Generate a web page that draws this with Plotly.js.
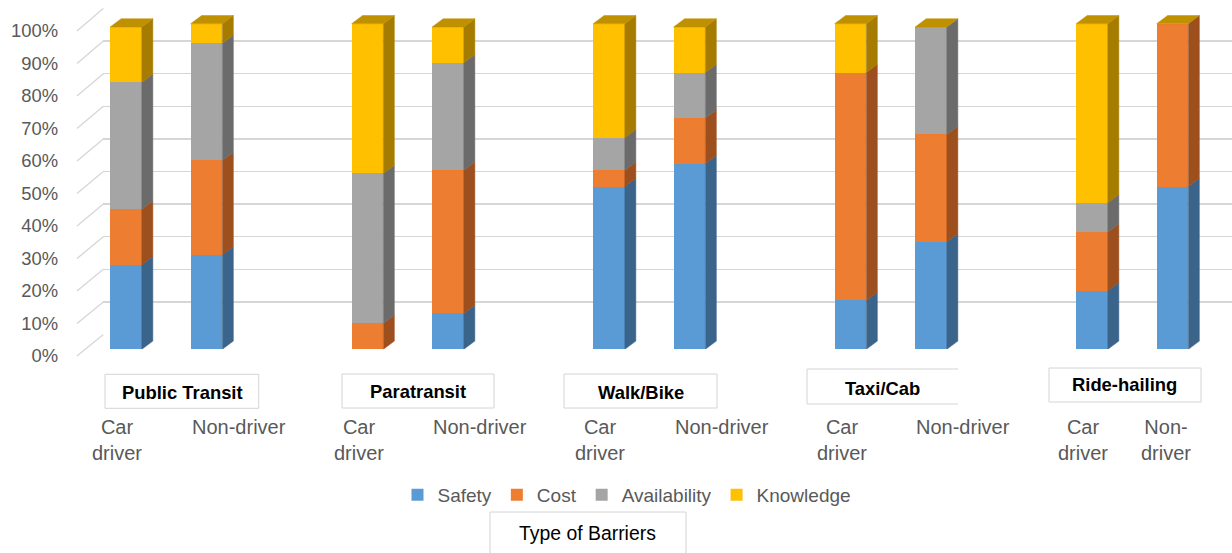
<!DOCTYPE html>
<html>
<head>
<meta charset="utf-8">
<script src="https://cdn.plot.ly/plotly-3.0.1.min.js"></script>
<style>html,body{margin:0;padding:0;background:#fff;}#chart{width:1232px;height:553px;}</style>
</head>
<body>
<div id="chart"></div>
<script>
// ---------- data ----------
const modes = ['Public Transit', 'Paratransit', 'Walk/Bike', 'Taxi/Cab', 'Ride-hailing'];
const groups = ['Car driver', 'Non-driver'];
const seriesNames = ['Safety', 'Cost', 'Availability', 'Knowledge'];
// order: PT car, PT non, Para car, Para non, WB car, WB non, Taxi car, Taxi non, RH car, RH non
const safety       = [26, 29,  0, 11, 50, 57, 15, 33, 18, 50];
const cost         = [17, 29,  8, 44,  5, 14, 70, 33, 18, 50];
const availability = [39, 36, 46, 33, 10, 14,  0, 33,  9,  0];
const knowledge    = [17,  6, 46, 11, 35, 14, 15,  0, 55,  0];
const yTicks = [0, 10, 20, 30, 40, 50, 60, 70, 80, 90, 100];
const yTickText = ['0%', '10%', '20%', '30%', '40%', '50%', '60%', '70%', '80%', '90%', '100%'];
const axisTitle = 'Type of Barriers';

// ---------- styling / geometry ----------
const W = 1232, H = 553;
const FONT = 'Liberation Sans, Arial, sans-serif';
const frontColors = ['#5B9BD5', '#ED7D31', '#A5A5A5', '#FFC000'];
const sideColors  = ['#3B648B', '#9E4F1E', '#6B6B6B', '#A67C00'];
const topColor = '#BF9000';
const gridColor = '#D6D6D6';
const boxColor = '#D4D4D4';

const px2x = p => p / W;
const px2y = p => (H - p) / H;

const series = [safety, cost, availability, knowledge];
const positions = [];
const catLabels = [];
modes.forEach((m, i) => groups.forEach((g, j) => { positions.push(3 * i + j); catLabels.push(g); }));

// bar subplot: position p -> pixel 126 + 80.5p ; value v -> 349.3 - 3.256v
const X0PX = 126, XSTEP = 80.5;
const BAR0 = 349.3, BARU = 3.256;
const BW = 31.7 / XSTEP;        // bar width in x units
const DX = 11 / XSTEP;          // depth offset (x units)
const DY = 8.2 / BARU;          // depth offset (y units)
const barYMax = 106;

// back wall: value v -> 334.5 - 3.26v
const BACK0 = 334.5, BACKU = 3.26;
// front floor edge (labels): value v -> 356 - 3.25v
const FRONT0 = 356, FRONTU = 3.25;
const backLeftPx = 103.3, frontLeftPx = 77;

const traces = [];
// invisible anchor traces so that the back-wall grid subplot and the label subplot are drawn
traces.push({ type: 'scatter', mode: 'markers', x: [0.5], y: [50], xaxis: 'x', yaxis: 'y',
  marker: { opacity: 0 }, showlegend: false, hoverinfo: 'skip' });
traces.push({ type: 'scatter', mode: 'markers', x: [0.5], y: [50], xaxis: 'x3', yaxis: 'y3',
  marker: { opacity: 0 }, showlegend: false, hoverinfo: 'skip' });
// front faces
series.forEach((vals, s) => {
  traces.push({
    type: 'bar', name: seriesNames[s], x: positions, y: vals,
    xaxis: 'x2', yaxis: 'y2', width: BW,
    marker: { color: frontColors[s], line: { width: 0 } },
    hoverinfo: 'name+y'
  });
});
// side faces
const bases = positions.map(() => 0);
series.forEach((vals, s) => {
  const xs = [], ys = [];
  vals.forEach((v, k) => {
    const b = bases[k];
    if (v > 0) {
      const xr = positions[k] + BW / 2;
      xs.push(xr, xr + DX, xr + DX, xr, xr, null);
      ys.push(b, b + DY, b + v + DY, b + v, b, null);
    }
    bases[k] = b + v;
  });
  traces.push({
    type: 'scatter', mode: 'lines', x: xs, y: ys, xaxis: 'x2', yaxis: 'y2',
    fill: 'toself', fillcolor: sideColors[s], line: { width: 0.5, color: sideColors[s] },
    showlegend: false, hoverinfo: 'skip'
  });
});
// top faces
{
  const xs = [], ys = [];
  bases.forEach((t, k) => {
    const xl = positions[k] - BW / 2, xr = positions[k] + BW / 2;
    xs.push(xl, xl + DX, xr + DX, xr, xl, null);
    ys.push(t, t + DY, t + DY, t, t, null);
  });
  traces.push({
    type: 'scatter', mode: 'lines', x: xs, y: ys, xaxis: 'x2', yaxis: 'y2',
    fill: 'toself', fillcolor: topColor, line: { width: 0.5, color: topColor },
    showlegend: false, hoverinfo: 'skip'
  });
}

// ---------- shapes ----------
const shapes = [];
// diagonal side-wall lines from front floor edge to back wall
yTicks.forEach(v => {
  shapes.push({
    type: 'line', xref: 'paper', yref: 'paper', layer: 'below',
    x0: px2x(frontLeftPx), y0: px2y(FRONT0 - FRONTU * v),
    x1: px2x(backLeftPx), y1: px2y(BACK0 - BACKU * v),
    line: { color: gridColor, width: 1.3 }
  });
});
function rect(x0, y0, x1, y1) {
  shapes.push({ type: 'rect', xref: 'paper', yref: 'paper',
    x0: px2x(x0), x1: px2x(x1), y0: px2y(y0), y1: px2y(y1),
    line: { color: boxColor, width: 1 }, fillcolor: 'rgba(0,0,0,0)' });
}
function seg(x0, y0, x1, y1) {
  shapes.push({ type: 'line', xref: 'paper', yref: 'paper',
    x0: px2x(x0), x1: px2x(x1), y0: px2y(y0), y1: px2y(y1),
    line: { color: boxColor, width: 1 } });
}
rect(105, 374.3, 258.7, 408.3);
rect(342, 374, 494, 408);
rect(564, 374, 717, 408);
seg(807, 369, 958, 369); seg(807, 369, 807, 404); seg(807, 404, 958, 404);
rect(1049, 368, 1201, 402);
rect(490, 512, 686, 565);

// ---------- annotations ----------
const annotations = [];
const groupLabelPx = [[182, 392], [418, 391], [641, 392], [882, 388], [1124, 385]];
modes.forEach((m, i) => {
  annotations.push({
    text: '<b>' + m + '</b>', xref: 'paper', yref: 'paper',
    x: px2x(groupLabelPx[i][0]), y: px2y(groupLabelPx[i][1]),
    xanchor: 'center', yanchor: 'middle', showarrow: false,
    font: { family: FONT, size: 18.4, color: '#000000' }
  });
});
// category labels under each bar
catLabels.forEach((g, k) => {
  const last = k === catLabels.length - 1;
  let text, shift, ypx;
  if (g === 'Car driver') { text = 'Car<br>driver'; shift = -9; ypx = 440; }
  else if (last) { text = 'Non-<br>driver'; shift = -7; ypx = 440; }
  else { text = g; shift = 32; ypx = 427; }
  annotations.push({
    text: text, xref: 'x2', yref: 'paper', x: positions[k], xshift: shift,
    y: px2y(ypx), xanchor: 'center', yanchor: 'middle', align: 'center',
    showarrow: false, font: { family: FONT, size: 20, color: '#595959' }
  });
});
annotations.push({
  text: axisTitle, xref: 'paper', yref: 'paper', x: px2x(587), y: px2y(533),
  xanchor: 'center', yanchor: 'middle', showarrow: false,
  font: { family: FONT, size: 19.4, color: '#000000' }
});

// ---------- layout ----------
const layout = {
  width: W, height: H,
  margin: { l: 0, r: 0, t: 0, b: 0 },
  paper_bgcolor: '#ffffff', plot_bgcolor: 'rgba(0,0,0,0)',
  barmode: 'stack', bargap: 0,
  font: { family: FONT, color: '#595959' },
  showlegend: true,
  legend: {
    orientation: 'h', x: px2x(627), y: px2y(495), xanchor: 'center', yanchor: 'middle',
    traceorder: 'normal', font: { family: FONT, size: 19, color: '#595959' },
    bgcolor: 'rgba(0,0,0,0)'
  },
  // back-wall gridlines
  xaxis: { domain: [px2x(backLeftPx), 1], anchor: 'y', range: [0, 1], showgrid: false, zeroline: false,
           showticklabels: false, ticks: '', showline: false, fixedrange: true },
  yaxis: { domain: [px2y(BACK0 + 0.3 * BACKU), px2y(BACK0 - 100.3 * BACKU)], anchor: 'x', range: [-0.3, 100.3],
           tickmode: 'array', tickvals: yTicks, showgrid: true, gridcolor: gridColor, gridwidth: 1.3,
           zeroline: false, showticklabels: false, ticks: '', showline: false, fixedrange: true },
  // bars
  xaxis2: { domain: [0, 1], anchor: 'y2', range: [-X0PX / XSTEP, (W - X0PX) / XSTEP],
            showgrid: false, zeroline: false, showticklabels: false, ticks: '', showline: false, fixedrange: true },
  yaxis2: { domain: [px2y(BAR0), px2y(BAR0 - barYMax * BARU)], anchor: 'x2', range: [0, barYMax],
            showgrid: false, zeroline: false, showticklabels: false, ticks: '', showline: false, fixedrange: true },
  // percent labels along the front floor edge
  xaxis3: { domain: [px2x(frontLeftPx), 1], anchor: 'y3', range: [0, 1], showgrid: false, zeroline: false,
            showticklabels: false, ticks: '', showline: false, fixedrange: true },
  yaxis3: { domain: [px2y(FRONT0), px2y(FRONT0 - 100 * FRONTU)], anchor: 'x3', range: [0, 100],
            tickmode: 'array', tickvals: yTicks, ticktext: yTickText, side: 'left', showgrid: false, zeroline: false,
            showline: false, ticks: '', ticklabelstandoff: 18,
            tickfont: { family: FONT, size: 18.4, color: '#595959' }, fixedrange: true },
  shapes: shapes,
  annotations: annotations
};

Plotly.newPlot('chart', traces, layout, { displayModeBar: false, staticPlot: true });
</script>
</body>
</html>
